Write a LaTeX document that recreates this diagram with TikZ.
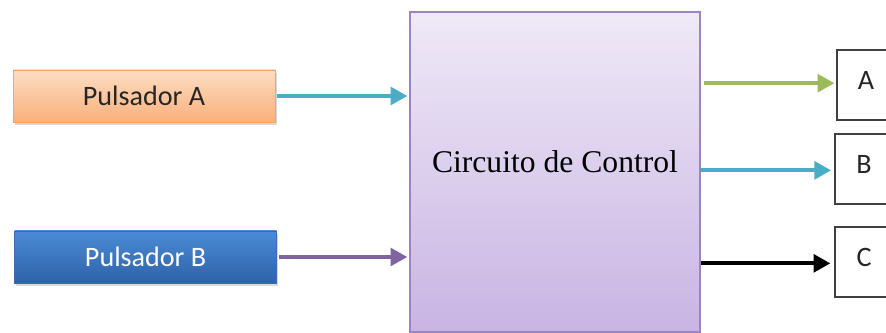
\documentclass[tikz,border=0pt]{standalone}
\usepackage{fontspec}
\setmainfont{Liberation Serif}
\newfontfamily\calfont{Carlito}
\usepackage{tikz}
\usetikzlibrary{arrows.meta,shadows}
\usepackage{xcolor}

\definecolor{arrcyan}{HTML}{4BACC6}
\definecolor{arrpurple}{HTML}{8064A2}
\definecolor{arrgreen}{HTML}{9BBB59}
\definecolor{pulAtop}{HTML}{FDDDC4}
\definecolor{pulAbot}{HTML}{FAB07A}
\definecolor{pulAline}{HTML}{F5A462}
\definecolor{pulBtop}{HTML}{4C8BD6}
\definecolor{pulBbot}{HTML}{2D62A9}
\definecolor{pulBline}{HTML}{3A6DB3}
\definecolor{ctrltop}{HTML}{EFE9F7}
\definecolor{ctrlbot}{HTML}{C9B4E3}
\definecolor{ctrlline}{HTML}{9B84C3}

\tikzset{
  pulsador/.style={rectangle,minimum width=6.55cm,minimum height=1.3cm,
    font=\calfont\fontsize{20}{24}\selectfont,
    drop shadow={opacity=0.3,shadow xshift=0.4mm,shadow yshift=-0.7mm}},
  salida/.style={rectangle,draw=black!75,line width=0.9pt,fill=white,
    minimum width=1.45cm,minimum height=1.75cm,text height=0.45cm,text depth=0.22cm,
    font=\calfont\fontsize{20}{24}\selectfont,text=black!85},
  flecha/.style={-{Triangle[length=4.2mm,width=4.4mm]},line width=2.8pt}
}

\begin{document}
\begin{tikzpicture}[line cap=butt]
\useasboundingbox (0,0) rectangle (22.15,8.325);
\clip (0,0) rectangle (22.15,8.325);
% entradas
\node[pulsador,top color=pulAtop,bottom color=pulAbot,draw=pulAline,text=black!85] (pulA) at (3.6,5.925) {Pulsador A};
\node[pulsador,top color=pulBtop,bottom color=pulBbot,draw=pulBline,text=white] (pulB) at (3.64,1.9) {Pulsador B};
% bloque central
\node[rectangle,draw=ctrlline,line width=0.9pt,top color=ctrltop,bottom color=ctrlbot,
  minimum width=7.25cm,minimum height=8cm,text height=0.5cm,text depth=0.46cm,
  font=\fontsize{22.5}{27}\selectfont] (ctrl) at (13.875,4.025) {Circuito de Control};
% salidas
\node[salida] (outA) at (21.65,6.2) {A};
\node[salida] (outB) at (21.6,4.1) {B};
\node[salida] (outC) at (21.6,1.775) {C};
% flechas
\draw[flecha,arrcyan,shorten <=0.05cm,shorten >=0.05cm] (pulA.east) -- (pulA.east -| ctrl.west);
\draw[flecha,arrpurple,shorten <=0.05cm,shorten >=0.05cm] (pulB.east) -- (pulB.east -| ctrl.west);
\draw[flecha,arrgreen,shorten <=0.08cm,shorten >=0.05cm] ([yshift=0.08cm]ctrl.east |- outA.mid) -- ([yshift=0.08cm]outA.mid -| outA.west);
\draw[flecha,arrcyan,shorten <=0.02cm,shorten >=0.08cm] (ctrl.east |- outB.mid) -- (outB.mid -| outB.west);
\draw[flecha,black,shorten >=0.1cm] (ctrl.east |- outC.mid) -- (outC.mid -| outC.west);
\end{tikzpicture}
\end{document}
